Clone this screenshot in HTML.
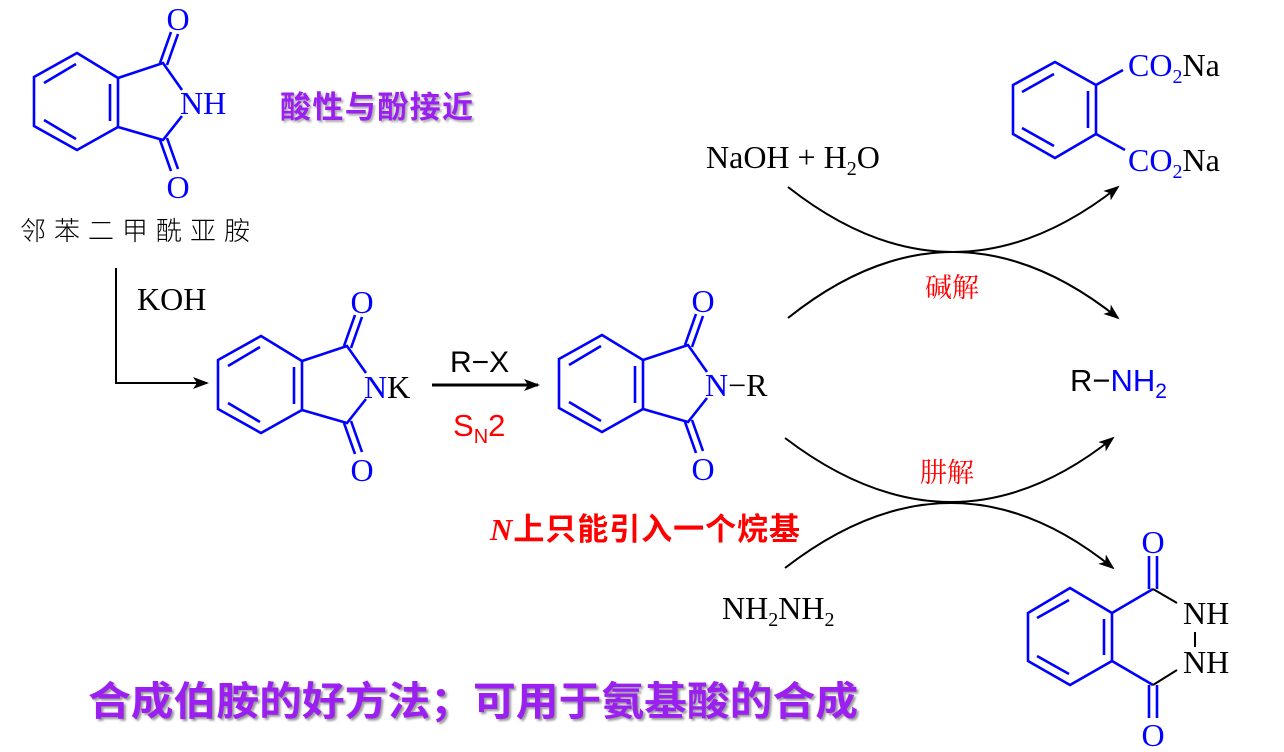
<!DOCTYPE html>
<html><head><meta charset="utf-8"><style>
html,body{margin:0;padding:0;background:#fff;}
svg{display:block;}
.s{font-family:"Liberation Serif",serif;font-size:32px;}
.b{stroke:#0000ff;stroke-width:2.6;fill:none;}
.k{stroke:#000;stroke-width:2;fill:none;}
</style></head><body>
<svg width="1284" height="752" viewBox="0 0 1284 752" xmlns="http://www.w3.org/2000/svg">
<defs>
<g id="ph">
<polygon class="b" points="77,53 118,78 118,127 77,150 34,126 34,77"/>
<line class="b" x1="110" y1="84" x2="110" y2="121"/>
<line class="b" x1="44" y1="83" x2="76" y2="64"/>
<line class="b" x1="44" y1="120" x2="76" y2="139"/>
<polyline class="b" points="118,78 163,63 182,90"/>
<polyline class="b" points="118,127 163,140 182,116"/>
<line class="b" x1="160" y1="63" x2="171" y2="32"/>
<line class="b" x1="167" y1="65" x2="178" y2="34"/>
<line class="b" x1="160" y1="140" x2="171" y2="171"/>
<line class="b" x1="167" y1="138" x2="178" y2="169"/>
<text x="178" y="30" text-anchor="middle" class="s" fill="#0000ff">O</text>
<text x="178" y="198" text-anchor="middle" class="s" fill="#0000ff">O</text>
</g>
<marker id="ah" markerWidth="16" markerHeight="12" refX="14" refY="6" orient="auto" markerUnits="userSpaceOnUse">
<path d="M0,0 L16,6 L0,12 L4,6 Z" fill="#000"/></marker>
</defs>

<use href="#ph"/>
<text x="180" y="114" class="s" fill="#0000ff">NH</text>
<text x="280" y="118" font-family="'Noto Sans CJK SC',sans-serif" font-weight="bold" font-size="31" fill="#9b1ff0" textLength="193" style="text-shadow:2px 2px 2px #aaa">酸性与酚接近</text>
<text x="20" y="240" font-family="'Noto Sans CJK SC',sans-serif" font-weight="300" font-size="26" fill="#000" textLength="230">邻苯二甲酰亚胺</text>

<polyline class="k" points="116,268 116,383 207,383" marker-end="url(#ah)"/>
<text x="137" y="310" class="s" font-size="28">KOH</text>

<use href="#ph" transform="translate(184,283)"/>
<text x="364" y="398" class="s"><tspan fill="#0000ff">N</tspan>K</text>

<line x1="432" y1="385" x2="538" y2="385" stroke="#000" stroke-width="3" marker-end="url(#ah)"/>
<text x="450" y="372" font-family="'Liberation Sans',sans-serif" font-size="30">R−X</text>
<text x="453" y="436" font-family="'Liberation Sans',sans-serif" font-size="31" fill="#ff0000">S<tspan font-size="20" dy="7">N</tspan><tspan dy="-7">2</tspan></text>

<use href="#ph" transform="translate(525,282)"/>
<text x="705" y="396" class="s"><tspan fill="#0000ff">N</tspan>−R</text>

<text x="490" y="540" font-family="'Liberation Serif','Noto Sans CJK SC',serif" font-weight="bold" font-size="31" fill="#ff0000" textLength="310"><tspan font-style="italic">N</tspan><tspan font-family="'Noto Sans CJK SC',sans-serif">上只能引入一个烷基</tspan></text>

<path d="M788,187 Q953,317 1118,187" class="k" marker-end="url(#ah)"/>
<path d="M788,318 Q953,186 1118,318" class="k" marker-end="url(#ah)"/>
<path d="M785,438 Q953,566 1113,438" class="k" marker-end="url(#ah)"/>
<path d="M785,568 Q953,438 1113,568" class="k" marker-end="url(#ah)"/>

<text x="706" y="168" class="s">NaOH + H<tspan font-size="20" dy="7">2</tspan><tspan dy="-7">O</tspan></text>
<text x="952" y="297" text-anchor="middle" font-family="'Noto Serif CJK SC',serif" font-size="27" fill="#ff0000">碱解</text>
<text x="947" y="482" text-anchor="middle" font-family="'Noto Serif CJK SC',serif" font-size="27" fill="#ff0000">肼解</text>
<text x="722" y="619" class="s">NH<tspan font-size="20" dy="7">2</tspan><tspan dy="-7">NH</tspan><tspan font-size="20" dy="7">2</tspan></text>

<text x="1070" y="391" font-family="'Liberation Sans',sans-serif" font-size="31">R−<tspan fill="#0000ff">NH</tspan><tspan fill="#0000ff" font-size="21" dy="7">2</tspan></text>

<polygon class="b" points="1055,62 1096,85 1096,134 1055,158 1013,134 1013,85"/>
<line class="b" x1="1088" y1="91" x2="1088" y2="128"/>
<line class="b" x1="1022" y1="92" x2="1054" y2="74"/>
<line class="b" x1="1022" y1="128" x2="1054" y2="146"/>
<line class="b" x1="1096" y1="85" x2="1123" y2="70"/>
<line class="b" x1="1096" y1="134" x2="1125" y2="150"/>
<text x="1128" y="76" class="s"><tspan fill="#0000ff">CO</tspan><tspan fill="#0000ff" font-size="20" dy="7">2</tspan><tspan dy="-7">Na</tspan></text>
<text x="1128" y="171" class="s"><tspan fill="#0000ff">CO</tspan><tspan fill="#0000ff" font-size="20" dy="7">2</tspan><tspan dy="-7">Na</tspan></text>

<polygon class="b" points="1070,588 1112,613 1112,661 1070,685 1028,661 1028,613"/>
<line class="b" x1="1104" y1="619" x2="1104" y2="655"/>
<line class="b" x1="1037" y1="618" x2="1069" y2="600"/>
<line class="b" x1="1037" y1="656" x2="1069" y2="674"/>
<line class="b" x1="1112" y1="613" x2="1153" y2="589"/>
<line class="b" x1="1112" y1="661" x2="1153" y2="685"/>
<line class="b" x1="1149" y1="589" x2="1149" y2="556"/>
<line class="b" x1="1157" y1="589" x2="1157" y2="556"/>
<line class="b" x1="1149" y1="685" x2="1149" y2="718"/>
<line class="b" x1="1157" y1="685" x2="1157" y2="718"/>
<line class="k" x1="1153" y1="589" x2="1177" y2="603"/>
<line class="k" x1="1153" y1="685" x2="1177" y2="670"/>
<line class="k" x1="1195" y1="632" x2="1195" y2="647"/>
<text x="1153" y="553" text-anchor="middle" class="s" fill="#0000ff">O</text>
<text x="1153" y="746" text-anchor="middle" class="s" fill="#0000ff">O</text>
<text x="1183" y="624" class="s">NH</text>
<text x="1183" y="673" class="s">NH</text>

<text x="88" y="715" font-family="'Noto Sans CJK SC',sans-serif" font-weight="bold" font-size="40" fill="#9b1ff0" textLength="770" lengthAdjust="spacingAndGlyphs" style="text-shadow:2px 2px 2px #999">合成伯胺的好方法；可用于氨基酸的合成</text>
</svg>
</body></html>
